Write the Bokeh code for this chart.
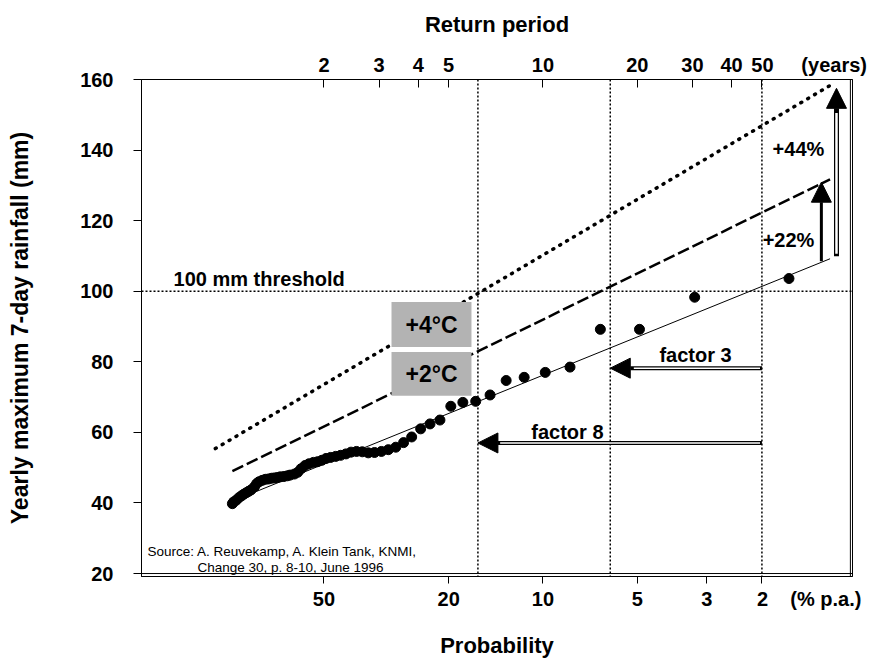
import math
from bokeh.plotting import figure
from bokeh.models import (Range1d, LogAxis, FixedTicker, BasicTickFormatter, CustomJSTickFormatter,
                          Span, Label, BoxAnnotation, Arrow, NormalHead)
from bokeh.embed import file_html
from bokeh.resources import INLINE

FONT = "Liberation Sans"

# ---------------- data ----------------
# observed yearly maxima: return period (years) and 7-day rainfall (mm)
return_period_yr = [61.0, 30.5, 20.33, 15.25, 12.2, 10.17, 8.71, 7.63, 6.78, 6.1,
                    5.55, 5.08, 4.69, 4.36, 4.07, 3.81, 3.59, 3.39, 3.21, 3.05,
                    2.90, 2.77, 2.65, 2.54, 2.44, 2.35, 2.26, 2.18, 2.10, 2.03,
                    1.97, 1.91, 1.85, 1.79, 1.74, 1.69, 1.65, 1.61, 1.56, 1.53,
                    1.49, 1.45, 1.42, 1.39, 1.36, 1.33, 1.30, 1.27, 1.24, 1.22,
                    1.20, 1.17, 1.15, 1.13, 1.11, 1.09, 1.07, 1.05, 1.03, 1.02]
rainfall_mm = [103.6, 98.3, 89.2, 89.2, 78.5, 77.0, 75.6, 74.7, 70.6, 68.8,
               68.5, 67.4, 63.5, 62.4, 61.0, 58.7, 57.1, 55.8, 55.1, 54.6,
               54.3, 54.2, 54.5, 54.6, 54.4, 53.9, 53.5, 53.2, 52.9, 52.6,
               52.1, 51.7, 51.5, 51.1, 50.6, 49.7, 48.7, 48.2, 47.9, 47.7,
               47.5, 47.4, 47.2, 47.1, 47.0, 46.8, 46.7, 46.4, 46.0, 45.5,
               44.6, 43.7, 43.3, 42.9, 42.5, 42.0, 41.5, 40.8, 40.3, 39.8]

# fitted lines (end points)
current_T = [1.02, 82.5]
current_mm = [40.5, 109.2]
plus2_T = [1.02, 82.5]
plus2_mm = [49.0, 131.7]
plus4_T = [0.90, 82.5]
plus4_mm = [55.4, 158.3]

threshold_mm = 100
crossing_T = [6.2, 16.4, 50]          # return periods where lines cross 100 mm

# axes
y_ticks = [20, 40, 60, 80, 100, 120, 140, 160]
return_ticks = [2, 3, 4, 5, 10, 20, 30, 40, 50]
prob_ticks_pct = [50, 20, 10, 5, 3, 2]

# arrows: (x_start, y_start, x_end, y_end)
factor3 = (50, 78.2, 16.4, 78.2)
factor8 = (50, 57.0, 6.2, 57.0)
pct22 = (77.4, 108.5, 77.4, 130.9)
pct44 = (86.5, 109.9, 86.5, 157.5)

# ---------------- figure ----------------
p = figure(width=872, height=660, x_axis_type="log",
           x_range=Range1d(0.523, 97.3), y_range=Range1d(19.16, 160),
           output_backend="svg", toolbar_location=None,
           min_border_left=141, min_border_right=20, min_border_top=79, min_border_bottom=83)
p.grid.visible = False
p.outline_line_color = "black"
p.outline_line_width = 1
p.background_fill_color = "white"
p.border_fill_color = "white"

def style_axis(ax):
    ax.major_label_text_font = FONT
    ax.major_label_text_font_size = "20px"
    ax.major_label_text_font_style = "bold"
    ax.major_label_text_color = "black"
    ax.axis_label_text_font = FONT
    ax.axis_label_text_font_size = "22px"
    ax.axis_label_text_font_style = "bold"
    ax.axis_label_text_color = "black"
    ax.minor_tick_line_color = None
    ax.axis_line_color = "black"
    ax.major_tick_line_color = "black"

NB = "\u00a0"

# bottom axis: probability (% p.a.)
xb = p.xaxis[0]
xb.ticker = FixedTicker(ticks=[100.0 / v for v in prob_ticks_pct])
xb.formatter = CustomJSTickFormatter(code="return String(Math.round(100 / tick));")
xb.major_label_overrides = {50: NB * 17 + "2" + NB * 4 + "(% p.a.)"}
xb.axis_label = "Probability"
xb.major_tick_in = 0
xb.major_tick_out = 7
xb.major_label_standoff = 4
xb.axis_label_standoff = 20
style_axis(xb)

# top axis: return period
xt = LogAxis(ticker=FixedTicker(ticks=return_ticks),
             formatter=BasicTickFormatter(use_scientific=False),
             axis_label="Return period")
xt.major_label_overrides = {50: NB * 17 + "50" + NB * 5 + "(years)"}
xt.major_tick_in = 8
xt.major_tick_out = 0
xt.major_label_standoff = 4
xt.axis_label_standoff = 14
style_axis(xt)
p.add_layout(xt, "above")

# left axis
yl = p.yaxis[0]
yl.ticker = FixedTicker(ticks=y_ticks)
yl.axis_label = "Yearly maximum 7-day rainfall (mm)"
yl.major_tick_in = 0
yl.major_tick_out = 8
yl.major_label_standoff = 20
yl.axis_label_standoff = 44
style_axis(yl)
yl.axis_label_text_font_size = "23px"

# shadow lines of the frame
p.add_layout(Span(location=20, dimension="width", line_color="black", line_width=1))
p.add_layout(Span(location=95.8, dimension="height", line_color="black", line_width=1))

# threshold and crossing lines
p.add_layout(Span(location=threshold_mm, dimension="width", line_color="black",
                  line_width=1.5, line_dash="2 2"))
for t in crossing_T:
    p.add_layout(Span(location=t, dimension="height", line_color="black",
                      line_width=1.5, line_dash="2 2"))

# lines
p.line(current_T, current_mm, line_color="black", line_width=1)
p.line(plus2_T, plus2_mm, line_color="black", line_width=2.5, line_dash="12 4")
p.line(plus4_T, plus4_mm, line_color="black", line_width=3.5, line_dash="1 7", line_cap="round")

# observations
p.scatter(return_period_yr, rainfall_mm, size=10, fill_color="black", line_color="black")

# grey boxes
p.add_layout(BoxAnnotation(left=3.285, right=5.913, bottom=84.21, top=96.93,
                           fill_color="#b3b3b3", fill_alpha=1, line_color=None))
p.add_layout(BoxAnnotation(left=3.285, right=5.913, bottom=70.35, top=82.79,
                           fill_color="#b3b3b3", fill_alpha=1, line_color=None))

def lab(x, y, text, size="20px", style="bold", align="center", baseline="middle", **kw):
    p.add_layout(Label(x=x, y=y, text=text, text_font=FONT, text_font_size=size,
                       text_font_style=style, text_align=align, text_baseline=baseline,
                       text_color="black", **kw))

# arrows
def arrow(spec, width, double=None):
    x0, y0, x1, y1 = spec
    p.add_layout(Arrow(x_start=x0, y_start=y0, x_end=x1, y_end=y1, line_width=width,
                       line_color="black",
                       end=NormalHead(size=20, fill_color="black", line_color="black", line_width=1)))
    if double:
        ix0, iy0, ix1, iy1 = double
        p.add_layout(Arrow(x_start=ix0, y_start=iy0, x_end=ix1, y_end=iy1,
                           line_width=width - 2.5, line_color="white", end=None))

arrow(factor3, 4, double=(49.3, 78.2, 19.5, 78.2))
arrow(factor8, 4, double=(49.3, 57.0, 7.3, 57.0))
arrow(pct22, 3)
arrow(pct44, 5, double=(86.5, 110.6, 86.5, 150.5))

lab(4.41, 90.57, "+4°C", size="23px")
lab(4.41, 76.57, "+2°C", size="23px")
lab(65.4, 140.2, "+44%")
lab(60.8, 114.5, "+22%")
lab(30.7, 81.95, "factor 3")
lab(11.97, 60.17, "factor 8")
lab(0.662, 100, "100 mm threshold", align="left", baseline="bottom", y_offset=1)
lab(0.5466, 26.32, "Source: A. Reuvekamp, A. Klein Tank, KNMI,", size="13.5px", style="normal", align="left")
lab(0.789, 21.62, "Change 30, p. 8-10, June 1996", size="13.5px", style="normal", align="left")

open("out.html", "w").write(file_html(p, INLINE))
